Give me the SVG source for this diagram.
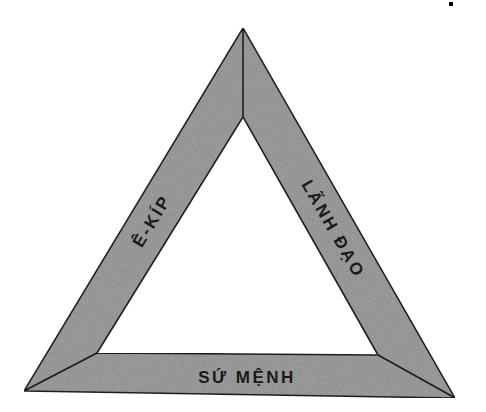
<svg xmlns="http://www.w3.org/2000/svg" width="486" height="412" viewBox="0 0 486 412">
<style>
.band{fill:#a6a6a6;stroke:#222222;stroke-width:1.6;stroke-linejoin:round}
.lbl{font-family:"Liberation Sans",Arial,sans-serif;font-weight:bold;font-size:17px;fill:#1a1a1a;text-anchor:middle;dominant-baseline:central;letter-spacing:2.5px}
</style>
<defs>
<filter id="grain" x="0" y="0" width="100%" height="100%">
<feTurbulence type="fractalNoise" baseFrequency="0.8" numOctaves="2" seed="3" result="n"/>
<feColorMatrix in="n" type="matrix" values="0 0 0 0 0.35  0 0 0 0 0.35  0 0 0 0 0.35  0 0 0 0.6 0" result="g"/>
<feComposite in="g" in2="SourceGraphic" operator="in" result="gc"/>
<feBlend in="gc" in2="SourceGraphic" mode="multiply"/>
</filter>
</defs>
<rect width="486" height="412" fill="#ffffff"/>
<rect x="449" y="2" width="4" height="4" fill="#000"/>
<g id="ekip">
<polygon class="band" filter="url(#grain)" points="243,28 243,117 97,353 24,391"/>
<text class="lbl" transform="translate(152,221) rotate(-58.9)">Ê-KÍP</text>
</g>
<g id="lanhdao">
<polygon class="band" filter="url(#grain)" points="243,28 455,398 378,355 243,117"/>
<text class="lbl" transform="translate(333,229) rotate(60.2)">LÃNH ĐẠO</text>
</g>
<g id="sumenh">
<polygon class="band" filter="url(#grain)" points="24,391 97,353 378,355 455,398"/>
<text class="lbl" transform="translate(247,377)">SỨ MỆNH</text>
</g>
<g id="connectors"></g>
</svg>
